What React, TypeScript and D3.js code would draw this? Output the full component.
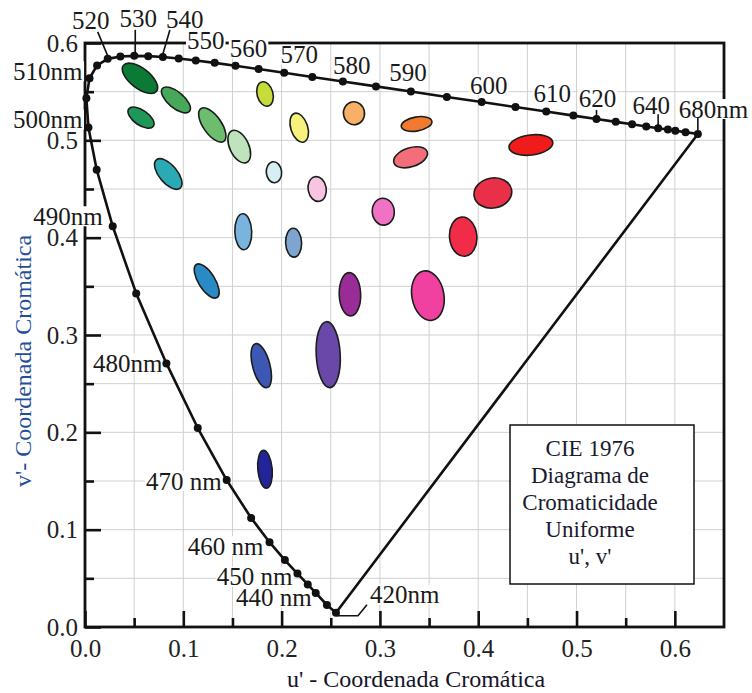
import React, { useRef, useEffect } from "react";
import * as d3 from "d3";

// spectral locus (wavelength, u', v')
const locusNm = [
  420, 430, 440, 445, 450, 455, 460, 465, 470, 475, 480, 485, 490, 495, 500,
  505, 510, 515, 520, 525, 530, 535, 540, 545, 550, 555, 560, 565, 570, 575,
  580, 585, 590, 595, 600, 605, 610, 615, 620, 625, 630, 635, 640, 645, 650,
  660, 680,
];
const locusU = [
  0.2553, 0.2461, 0.2347, 0.2266, 0.2161, 0.2033, 0.1877, 0.169, 0.1441,
  0.1147, 0.0828, 0.0521, 0.0282, 0.0119, 0.0035, 0.0014, 0.0046, 0.0123,
  0.0231, 0.036, 0.0501, 0.0643, 0.0792, 0.0953, 0.1127, 0.1319, 0.1531,
  0.1766, 0.2026, 0.2312, 0.2623, 0.296, 0.3315, 0.3681, 0.4035, 0.4379,
  0.4692, 0.4968, 0.5203, 0.5399, 0.5565, 0.5709, 0.583, 0.5929, 0.6005,
  0.6109, 0.6234,
];
const locusV = [
  0.0147, 0.0226, 0.035, 0.0437, 0.0549, 0.0688, 0.0871, 0.112, 0.151, 0.2044,
  0.2708, 0.3427, 0.4117, 0.4698, 0.5131, 0.5432, 0.5638, 0.577, 0.5837,
  0.5861, 0.5868, 0.5865, 0.5856, 0.5841, 0.5821, 0.5796, 0.5766, 0.5732,
  0.5694, 0.5651, 0.5604, 0.5554, 0.5501, 0.5446, 0.5393, 0.5342, 0.5296,
  0.5254, 0.5219, 0.519, 0.5165, 0.5143, 0.5125, 0.5111, 0.5099, 0.5084,
  0.5065,
];

// wavelength labels
const labelNm = [
  520, 530, 540, 550, 560, 570, 580, 590, 600, 610, 620, 640, 680, 510, 500,
  490, 480, 470, 460, 450, 440, 420,
];
const labelText = [
  "520", "530", "540", "550", "560", "570", "580", "590", "600", "610", "620",
  "640", "680nm", "510nm", "500nm", "490nm", "480nm", "470 nm", "460 nm",
  "450 nm", "440 nm", "420nm",
];

// where each label sits relative to its dot (px)
const labelLayout: Record<
  number,
  { dx: number; dy: number; anchor: string; leader?: number[][] }
> = {
  520: { dx: -17, dy: -38, anchor: "middle", leader: [[-10, -27], [0, -3]] },
  530: { dx: 4, dy: -37, anchor: "middle", leader: [[1, -26], [1, -3]] },
  540: { dx: 22, dy: -38, anchor: "middle", leader: [[7, -27], [0, -3]] },
  550: { dx: 10, dy: -20, anchor: "middle" },
  560: { dx: 13, dy: -17, anchor: "middle" },
  570: { dx: 15, dy: -18, anchor: "middle" },
  580: { dx: 9, dy: -16, anchor: "middle" },
  590: { dx: -3, dy: -19, anchor: "middle" },
  600: { dx: 7, dy: -17, anchor: "middle" },
  610: { dx: 6, dy: -18, anchor: "middle" },
  620: { dx: 1, dy: -21, anchor: "middle", leader: [[0, -2], [0, -9]] },
  640: { dx: -7, dy: -23, anchor: "middle", leader: [[0, -3], [0, -14]] },
  680: { dx: -19, dy: -25, anchor: "start", leader: [[0, -4], [0, -16]] },
  510: { dx: -7, dy: -7, anchor: "end" },
  500: { dx: -6, dy: -8, anchor: "end" },
  490: { dx: -10, dy: -10, anchor: "end" },
  480: { dx: -4, dy: 0, anchor: "end" },
  470: { dx: -5, dy: 1, anchor: "end" },
  460: { dx: -6, dy: 4, anchor: "end" },
  450: { dx: -5, dy: 3, anchor: "end" },
  440: { dx: -4, dy: 5, anchor: "end" },
  420: { dx: 34, dy: -18, anchor: "start", leader: [[1, 3], [22, 3], [31, -8]] },
};

// MacAdam ellipses: centre (u', v'), semi axes, tilt (deg, clockwise), colour
const ellU = [
  0.0559, 0.057, 0.0925, 0.1295, 0.1569, 0.1831, 0.2179, 0.2736, 0.1922,
  0.2362, 0.0847, 0.3373, 0.3312, 0.3034, 0.4536, 0.4149, 0.3847, 0.161,
  0.2122, 0.1238, 0.2695, 0.3488, 0.1793, 0.2474, 0.1831,
];
const ellV = [
  0.5637, 0.5233, 0.5415, 0.5158, 0.4935, 0.5476, 0.513, 0.5278, 0.4672, 0.45,
  0.4654, 0.5168, 0.4826, 0.4267, 0.4952, 0.4459, 0.401, 0.4061, 0.3948,
  0.3555, 0.3418, 0.3404, 0.2685, 0.2798, 0.162,
];
const ellA = [
  0.0214, 0.0153, 0.018, 0.0203, 0.0178, 0.0127, 0.0153, 0.0117, 0.0107,
  0.0127, 0.0188, 0.0158, 0.0178, 0.0137, 0.0224, 0.0193, 0.02, 0.0183,
  0.0147, 0.0198, 0.0221, 0.0254, 0.0231, 0.0336, 0.0193,
];
const ellB = [
  0.0102, 0.0076, 0.0081, 0.0092, 0.0097, 0.0081, 0.0086, 0.0107, 0.0078,
  0.0092, 0.0092, 0.0071, 0.0097, 0.0112, 0.0102, 0.0153, 0.0139, 0.0086,
  0.0081, 0.0084, 0.0109, 0.0163, 0.0088, 0.0122, 0.0073,
];
const ellAngle = [
  38, 35, 40, 55, 65, 75, 72, 80, 85, 80, 50, -10, -18, 85, -7, -10, 85, 88,
  88, 58, 88, 80, 75, 87, 85,
];
const ellColor = [
  "#0b7a35", "#1e9758", "#48a85a", "#6cbd6e", "#bfe3bc", "#c6dc3a", "#f6f27c",
  "#f7b066", "#d8eef4", "#f8c4e2", "#2aaab5", "#f27a2e", "#f26e7a", "#ef72c4",
  "#f01c1c", "#ea3048", "#f02c48", "#78b4de", "#7ea4d0", "#2a8ac6", "#9a2c98",
  "#f040a0", "#3c58b4", "#6a48aa", "#24249a",
];

const uMajor = [0, 0.1, 0.2, 0.3, 0.4, 0.5, 0.6];
const uMinor = [0.05, 0.15, 0.25, 0.35, 0.45, 0.55];
const vMajor = [0, 0.1, 0.2, 0.3, 0.4, 0.5, 0.6];
const vMinor = [0.05, 0.15, 0.25, 0.35, 0.45, 0.55];

const legendLines = ["CIE 1976", "Diagrama de", "Cromaticidade", "Uniforme", "u', v'"];

const FONT = "'Liberation Serif', 'Times New Roman', serif";

const App = () => {
  const svgRef = useRef<SVGSVGElement>(null);

  useEffect(() => {
    const svg = d3.select(svgRef.current);
    svg.selectAll("*").remove();

    const x = d3.scaleLinear().domain([0, 0.65]).range([85, 724]);
    const y = d3.scaleLinear().domain([0, 0.6]).range([627, 43]);
    const k = x(1) - x(0);

    // grid
    const grid = svg.append("g").attr("stroke", "#d0d0d0").attr("stroke-width", 1);
    grid
      .selectAll("line.gv")
      .data(d3.range(1, 13).map((i) => i * 0.05))
      .join("line")
      .attr("x1", (d) => x(d))
      .attr("x2", (d) => x(d))
      .attr("y1", y(0))
      .attr("y2", y(0.6));
    grid
      .selectAll("line.gh")
      .data(d3.range(1, 12).map((i) => i * 0.05))
      .join("line")
      .attr("class", "gh")
      .attr("x1", x(0))
      .attr("x2", x(0.65))
      .attr("y1", (d) => y(d))
      .attr("y2", (d) => y(d));

    // frame
    svg
      .append("rect")
      .attr("x", x(0))
      .attr("y", y(0.6))
      .attr("width", x(0.65) - x(0))
      .attr("height", y(0) - y(0.6))
      .attr("fill", "none")
      .attr("stroke", "#111")
      .attr("stroke-width", 2.8);

    // axes
    const styleAxis = (g: any) => {
      g.select(".domain").remove();
      g.selectAll("line").attr("stroke", "#111").attr("stroke-width", 2.6);
      g.attr("font-family", FONT).attr("font-size", 25);
      g.selectAll("text").attr("fill", "#222");
    };
    svg
      .append("g")
      .attr("transform", `translate(0,${y(0)})`)
      .call(d3.axisBottom(x).tickValues(uMajor).tickSize(-16).tickPadding(12).tickFormat(d3.format(".1f")))
      .call(styleAxis);
    svg
      .append("g")
      .attr("transform", `translate(0,${y(0)})`)
      .call(d3.axisBottom(x).tickValues(uMinor).tickSize(-9).tickFormat(() => ""))
      .call(styleAxis);
    svg
      .append("g")
      .attr("transform", `translate(${x(0)},0)`)
      .call(d3.axisLeft(y).tickValues(vMajor).tickSize(-16).tickPadding(7).tickFormat(d3.format(".1f")))
      .call(styleAxis);
    svg
      .append("g")
      .attr("transform", `translate(${x(0)},0)`)
      .call(d3.axisLeft(y).tickValues(vMinor).tickSize(-9).tickFormat(() => ""))
      .call(styleAxis);

    const pts = locusNm.map((nm, i) => ({ nm, px: x(locusU[i]), py: y(locusV[i]) }));
    const dotOf = (nm: number) => pts.find((p) => p.nm === nm)!;

    // wavelength labels, on white patches
    const labels = svg.append("g").attr("font-family", FONT).attr("font-size", 25).attr("fill", "#1a1a1a");
    labelNm.forEach((nm, i) => {
      const p = dotOf(nm);
      const lay = labelLayout[nm];
      const g = labels.append("g");
      const bg = g.append("rect").attr("fill", "#fff");
      const t = g
        .append("text")
        .attr("x", p.px + lay.dx)
        .attr("y", p.py + lay.dy)
        .attr("text-anchor", lay.anchor)
        .attr("dominant-baseline", "central")
        .text(labelText[i]);
      const bb = (t.node() as SVGTextElement).getBBox();
      bg.attr("x", bb.x - 1)
        .attr("y", p.py + lay.dy - 10)
        .attr("width", bb.width + 2)
        .attr("height", 20);
    });

    // leaders
    const leaderLine = d3.line();
    labelNm.forEach((nm) => {
      const lay = labelLayout[nm];
      if (!lay.leader) return;
      const p = dotOf(nm);
      svg
        .append("path")
        .attr("d", leaderLine(lay.leader.map(([dx, dy]) => [p.px + dx, p.py + dy]) as [number, number][]))
        .attr("fill", "none")
        .attr("stroke", "#111")
        .attr("stroke-width", 1.6);
    });

    // locus and purple line
    const line = d3
      .line<{ px: number; py: number }>()
      .x((d) => d.px)
      .y((d) => d.py);
    svg
      .append("path")
      .attr("d", line([...pts, pts[0]]))
      .attr("fill", "none")
      .attr("stroke", "#111")
      .attr("stroke-width", 2.6)
      .attr("stroke-linejoin", "round");
    svg
      .append("g")
      .selectAll("circle")
      .data(pts)
      .join("circle")
      .attr("cx", (d) => d.px)
      .attr("cy", (d) => d.py)
      .attr("r", 4)
      .attr("fill", "#111");

    // ellipses
    svg
      .append("g")
      .selectAll("ellipse")
      .data(ellU.map((u, i) => i))
      .join("ellipse")
      .attr("cx", (i) => x(ellU[i]))
      .attr("cy", (i) => y(ellV[i]))
      .attr("rx", (i) => ellA[i] * k)
      .attr("ry", (i) => ellB[i] * k)
      .attr("transform", (i) => `rotate(${ellAngle[i]},${x(ellU[i])},${y(ellV[i])})`)
      .attr("fill", (i) => ellColor[i])
      .attr("stroke", "#1b1f1b")
      .attr("stroke-width", 1.6);

    // legend box
    const lg = svg.append("g");
    lg.append("rect")
      .attr("x", 510)
      .attr("y", 425)
      .attr("width", 184)
      .attr("height", 159)
      .attr("fill", "#fff")
      .attr("stroke", "#111")
      .attr("stroke-width", 1.5);
    lg.selectAll("text")
      .data(legendLines)
      .join("text")
      .attr("x", 590)
      .attr("y", (d, i) => 448 + i * 27)
      .attr("text-anchor", "middle")
      .attr("dominant-baseline", "central")
      .attr("font-family", FONT)
      .attr("font-size", 23)
      .attr("fill", "#1a1a2e")
      .text((d) => d);

    // axis titles
    svg
      .append("text")
      .attr("x", 416)
      .attr("y", 687)
      .attr("text-anchor", "middle")
      .attr("font-family", FONT)
      .attr("font-size", 24)
      .attr("fill", "#15152a")
      .text("u' - Coordenada Cromática");
    svg
      .append("text")
      .attr("transform", "translate(31,361) rotate(-90)")
      .attr("text-anchor", "middle")
      .attr("font-family", FONT)
      .attr("font-size", 24)
      .attr("fill", "#1f4f9a")
      .text("v'- Coordenada Cromática");
  }, []);

  return (
    <svg
      ref={svgRef}
      width={752}
      height={693}
      style={{ position: "absolute", left: 0, top: 0, background: "#fff" }}
    ></svg>
  );
};

export default App;
